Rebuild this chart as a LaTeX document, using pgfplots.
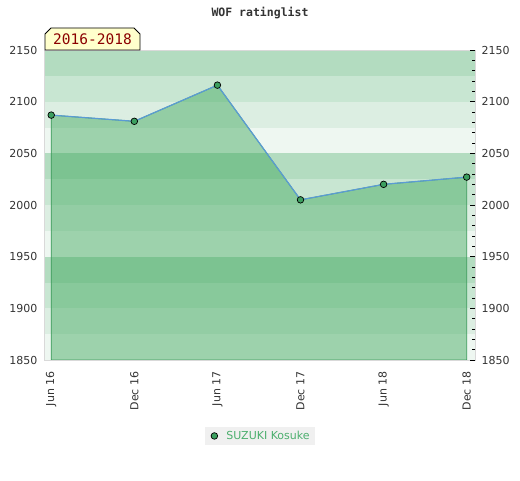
\documentclass[border=0pt]{standalone}
\usepackage{pgfplots}
\pgfplotsset{compat=1.18}
\usepackage{fontspec}
\setmainfont{DejaVu Sans}
\newfontfamily\monofont{DejaVu Sans Mono}
\usetikzlibrary{shapes.misc}
\definecolor{bandA}{HTML}{B3DCC0}
\definecolor{bandB}{HTML}{C8E6D2}
\definecolor{bandC}{HTML}{DCEEE2}
\definecolor{bandD}{HTML}{EEF7F1}
\definecolor{fillg}{rgb}{0.23,0.65,0.35}
\definecolor{edgeg}{HTML}{3A9A5A}
\definecolor{lineb}{HTML}{5B9BD5}
\definecolor{markg}{HTML}{3C9F5F}
\definecolor{legtext}{HTML}{4CAF6E}
\definecolor{legfill}{HTML}{F0F0F0}
\definecolor{ticktext}{HTML}{333333}
\definecolor{boxfill}{HTML}{FFFFCC}
\definecolor{boxtext}{HTML}{8B0000}
\begin{document}
\begin{tikzpicture}[x=1pt,y=1pt]
\path[use as bounding box] (0,0) rectangle (520,480);
\begin{axis}[at={(45pt,120pt)}, anchor=south west, scale only axis,
  width=430pt, height=310pt,
  xmin=-0.075, xmax=5.1, ymin=1850, ymax=2150,
  xtick={0,...,5}, xticklabels={Jun 16,Dec 16,Jun 17,Dec 17,Jun 18,Dec 18},
  ytick={1850,1900,...,2150},
  major tick length=0pt,
  axis on top,
  axis line style={draw=gray!30, line width=1pt},
  /pgf/number format/assume math mode=true,
  /pgf/number format/1000 sep={},
  ticklabel style={font=\fontsize{11}{13}\selectfont, text=ticktext},
  xticklabel style={yshift=-8pt, rotate=90, anchor=east},
  yticklabel style={xshift=-4pt},
  legend style={at={(0.5,-0.245)}, anchor=center, fill=legfill, draw=none,
    font=\fontsize{11}{13}\selectfont, text=legtext, inner xsep=3pt, inner ysep=2pt},
  legend image code/.code={\path[draw=none] (-6pt,0) -- (10pt,0); \draw[#1] plot coordinates {(0pt,0pt)};},
]
% background bands
\fill[bandD] (axis cs:-1,1850) rectangle (axis cs:6,1875);
\fill[bandC] (axis cs:-1,1875) rectangle (axis cs:6,1900);
\fill[bandB] (axis cs:-1,1900) rectangle (axis cs:6,1925);
\fill[bandA] (axis cs:-1,1925) rectangle (axis cs:6,1950);
\fill[bandD] (axis cs:-1,1950) rectangle (axis cs:6,1975);
\fill[bandC] (axis cs:-1,1975) rectangle (axis cs:6,2000);
\fill[bandB] (axis cs:-1,2000) rectangle (axis cs:6,2025);
\fill[bandA] (axis cs:-1,2025) rectangle (axis cs:6,2050);
\fill[bandD] (axis cs:-1,2050) rectangle (axis cs:6,2075);
\fill[bandC] (axis cs:-1,2075) rectangle (axis cs:6,2100);
\fill[bandB] (axis cs:-1,2100) rectangle (axis cs:6,2125);
\fill[bandA] (axis cs:-1,2125) rectangle (axis cs:6,2150);
% area
\addplot[draw=edgeg, line width=0.8pt, fill=fillg, fill opacity=0.45, forget plot]
  coordinates {(0,2087)(1,2081)(2,2116)(3,2005)(4,2020)(5,2027)} \closedcycle;
\addplot[lineb, line width=1.2pt, forget plot]
  coordinates {(0,2087)(1,2081)(2,2116)(3,2005)(4,2020)(5,2027)};
\addplot[only marks, mark=*, mark size=3.3pt, mark options={fill=markg, draw=black, line width=0.7pt}]
  coordinates {(0,2087)(1,2081)(2,2116)(3,2005)(4,2020)(5,2027)};
\addlegendentry{SUZUKI Kosuke}
\end{axis}
\begin{axis}[at={(45pt,120pt)}, anchor=south west, scale only axis,
  width=430pt, height=310pt,
  xmin=-0.075, xmax=5.1, ymin=1850, ymax=2150,
  axis x line=none, axis y line*=right,
  axis line style={draw=none},
  ytick={1850,1900,...,2150}, minor y tick num=4,
  tick align=inside, major tick length=5pt, minor tick length=3pt,
  tick style={black, line width=0.8pt},
  /pgf/number format/assume math mode=true,
  /pgf/number format/1000 sep={},
  ticklabel style={font=\fontsize{11}{13}\selectfont, text=ticktext},
  yticklabel style={xshift=3pt},
]
\addplot[draw=none, forget plot] coordinates {(0,1850)(5,2150)};
\end{axis}
\node[font=\monofont\bfseries\fontsize{11.5}{13}\selectfont, text=ticktext] at (260,467) {WOF ratinglist};
\node[chamfered rectangle, chamfered rectangle corners={north west, north east},
  chamfered rectangle xsep=3pt, chamfered rectangle ysep=3pt,
  draw=black, line width=0.8pt, fill=boxfill, text=boxtext,
  minimum width=95pt, minimum height=22pt, inner sep=0pt,
  font=\monofont\fontsize{14.5}{16}\selectfont] at (92.5,441) {2016-2018};
\end{tikzpicture}
\end{document}
